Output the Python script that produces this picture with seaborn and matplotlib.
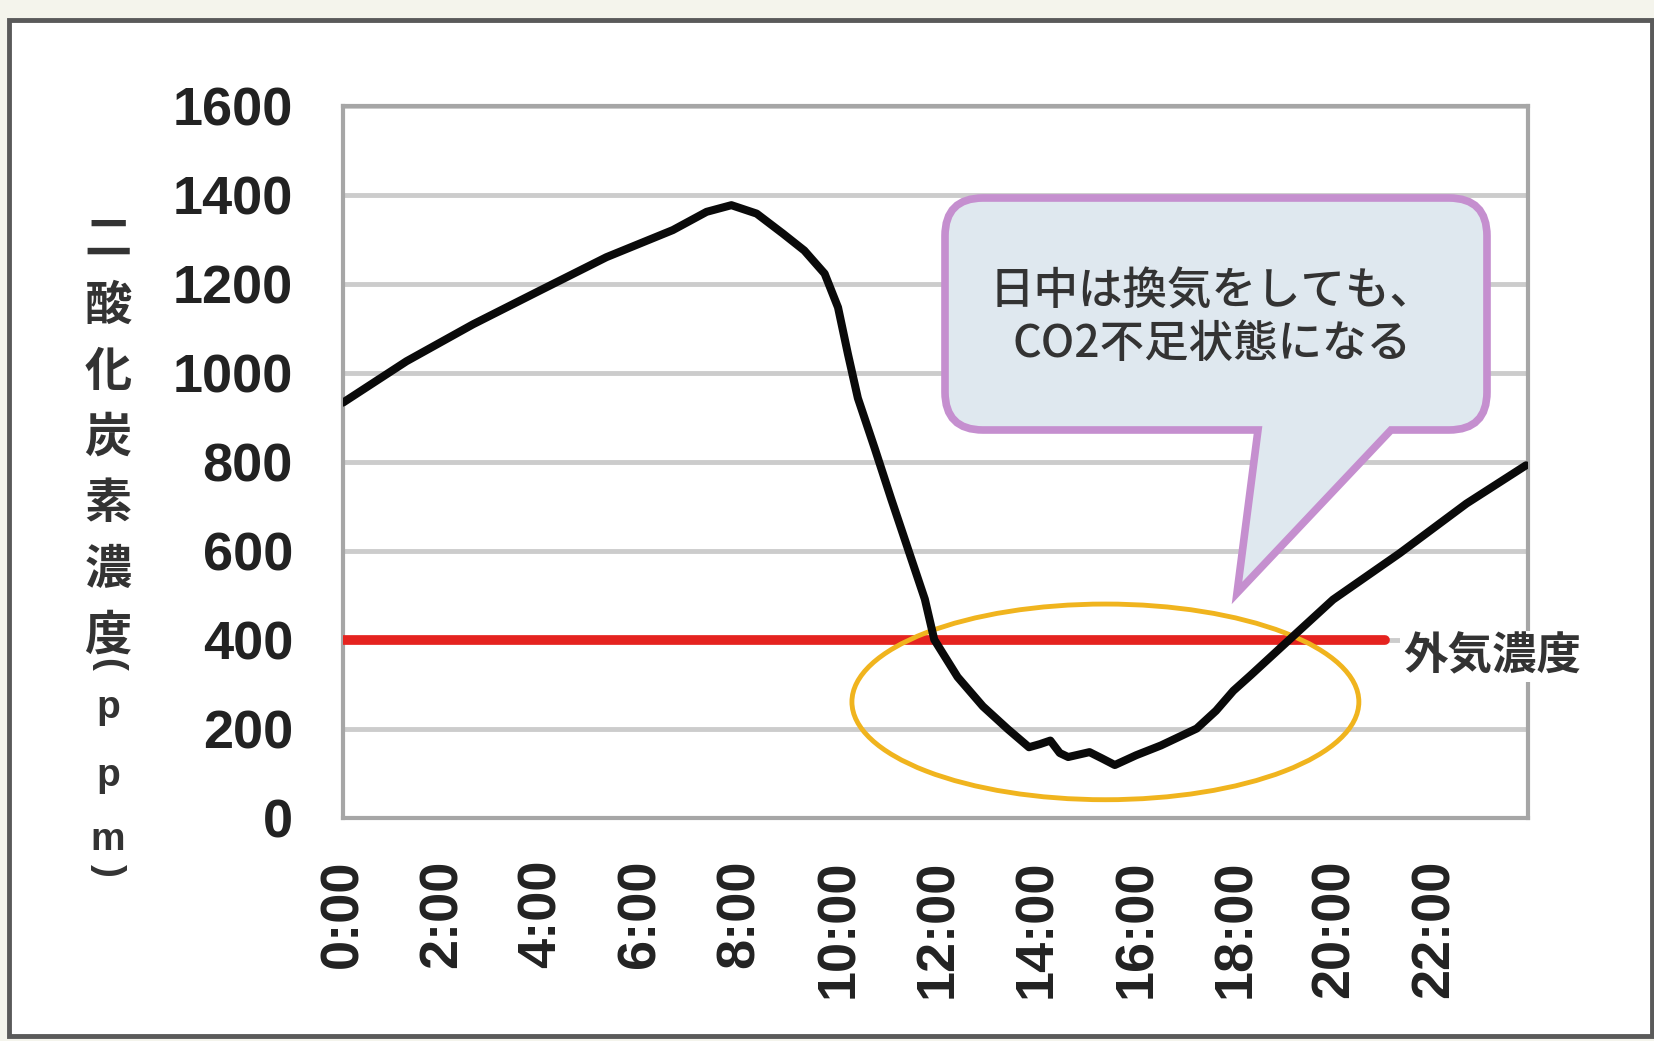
import matplotlib
matplotlib.use("Agg")
import matplotlib.pyplot as plt
import seaborn as sns
import pandas as pd
from matplotlib.patches import Ellipse, PathPatch, Rectangle
from matplotlib.path import Path
from matplotlib.transforms import IdentityTransform

# CO2 concentration over one day
hours = [0, 1.28, 2.62, 3.97, 5.31, 6.65, 7.33, 7.83, 8.34, 8.87, 9.3, 9.71,
         9.98, 10.18, 10.38, 10.72, 11.05, 11.39, 11.73, 11.92, 12.39, 12.9,
         13.4, 13.83, 14.05, 14.26, 14.45, 14.62, 15.05, 15.3, 15.56, 15.99,
         16.49, 17.21, 17.6, 17.95, 18.3, 19.08, 19.96, 21.3, 22.65, 23.85]
ppm = [933, 1026, 1109, 1185, 1260, 1321, 1362, 1377, 1358, 1313, 1275, 1223,
       1147, 1042, 943, 830, 717, 604, 491, 400, 316, 250,
       199, 158, 165, 173, 145, 136, 147, 133, 118, 140,
       162, 200, 240, 285, 320, 400, 490, 594, 706, 792]

outside_hours = [0, 21]
outside_ppm = [400, 400]

x_ticks = list(range(0, 24, 2))
x_labels = ["%d:00" % h for h in x_ticks]
y_ticks = list(range(0, 1601, 200))

y_title = "二酸化炭素濃度(ppm)"
outside_label = "外気濃度"
bubble_text = "日中は換気をしても、\nCO2不足状態になる"

df = pd.DataFrame({"hour": hours, "ppm": ppm})

sns.set_theme(style="white")
plt.rcParams['font.family'] = ['Liberation Sans', 'Noto Sans CJK JP', 'DejaVu Sans']

W, H = 1654, 1041
fig = plt.figure(figsize=(W / 100, H / 100), dpi=100, facecolor='#f4f4ec')
# white panel with dark frame
fig.patches.append(Rectangle((9 / W, 5 / H), (1652 - 9) / W, (1021 - 5) / H,
                             transform=fig.transFigure, facecolor='white',
                             edgecolor='#5a5a5a', lw=3.5, zorder=-1))

ax = fig.add_axes([343 / W, 1 - 817.5 / H, (1528 - 343) / W, (817.5 - 106) / H])
ax.set_facecolor('white')

sns.lineplot(x=outside_hours, y=outside_ppm, ax=ax, color='#e5231f', lw=7,
             zorder=3)
sns.lineplot(data=df, x="hour", y="ppm", ax=ax, color='#0a0a0a', lw=5.8,
             zorder=4)

ax.set_xlim(0, 23.89)
ax.set_ylim(0, 1600)
ax.set_xlabel("")
ax.set_ylabel("")
ax.set_xticks(x_ticks)
ax.set_xticklabels(x_labels, rotation=90, va='top', ha='center')
ax.set_yticks(y_ticks)
ax.yaxis.grid(True, color='#cccccc', lw=3.5)
ax.xaxis.grid(False)
ax.set_axisbelow(True)
for s in ax.spines.values():
    s.set_color('#a6a6a6')
    s.set_linewidth(3)
ax.tick_params(axis='x', direction='in', length=13, width=2, color='#c0c0c0',
               pad=30, labelsize=39, labelcolor='#222222')
ax.tick_params(axis='y', length=0, pad=36, labelsize=39, labelcolor='#222222')
for lab in ax.get_xticklabels() + ax.get_yticklabels():
    lab.set_fontweight('bold')

# yellow ellipse round the low period
ax.add_patch(Ellipse((15.37, 260), 10.22, 440, fill=False, edgecolor='#f0b41e',
                     lw=3.5, clip_on=False, zorder=3.5))

# outside concentration label
ax.text(21.37, 362, outside_label, fontsize=32, fontweight='bold',
        color='#333333', va='center', ha='left', family=['Noto Sans CJK JP'],
        bbox=dict(facecolor='white', edgecolor='none', pad=2), zorder=5,
        clip_on=False)

# speech bubble (pixel coordinates, y measured from the top)
L, R, T, B, r = 945, 1487, 198, 430, 38
pts = [(L + r, T), (R - r, T), (R, T), (R, T + r), (R, B - r), (R, B), (R - r, B),
       (1391, B), (1237, 593), (1258, B), (L + r, B), (L, B), (L, B - r),
       (L, T + r), (L, T), (L + r, T), (L + r, T)]
codes = [Path.MOVETO, Path.LINETO, Path.CURVE3, Path.CURVE3, Path.LINETO,
         Path.CURVE3, Path.CURVE3, Path.LINETO, Path.LINETO, Path.LINETO,
         Path.LINETO, Path.CURVE3, Path.CURVE3, Path.LINETO, Path.CURVE3,
         Path.CURVE3, Path.CLOSEPOLY]
bubble = Path([(px, H - py) for px, py in pts], codes)
ax.add_patch(PathPatch(bubble, transform=IdentityTransform(), facecolor='#dfe8ef',
                       edgecolor='#c58fcf', lw=5.5, clip_on=False, zorder=6))
fig.text(1212 / W, 1 - 318 / H, bubble_text, fontsize=32, color='#333333',
         fontweight='medium', ha='center', va='center', multialignment='center',
         linespacing=1.2, family=['Noto Sans CJK JP'], zorder=7)

# vertical y axis title: upright characters, brackets turned
cjk_part = y_title[:7]
latin_part = y_title[7:]
for i, ch in enumerate(cjk_part):
    fig.text(108 / W, 1 - (240 + i * 66) / H, ch, fontsize=34, fontweight='bold',
             color='#333333', ha='center', va='center',
             family=['Noto Sans CJK JP'])
latin_y = [664, 708, 776, 840, 870]
for ch, yy in zip(latin_part, latin_y):
    rot = -90 if ch in "()" else 0
    fig.text(108 / W, 1 - yy / H, ch, fontsize=28, fontweight='bold',
             color='#333333', ha='center', va='center', rotation=rot,
             family=['Liberation Sans'])

fig.savefig("out.png", dpi=100, facecolor=fig.get_facecolor())
